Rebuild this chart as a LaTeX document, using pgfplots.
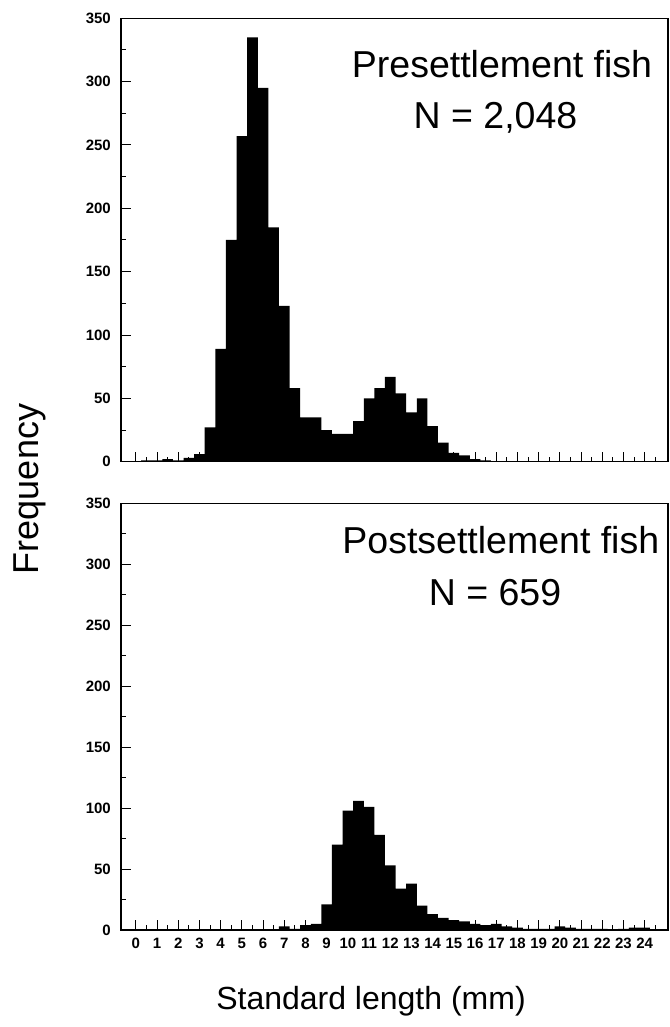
\documentclass[border=0pt]{standalone}
\usepackage{fontspec}
\setmainfont{Liberation Sans}
\usepackage{pgfplots}
\pgfplotsset{compat=1.18}

\pgfplotsset{
  common/.style={
    scale only axis, width=547pt,
    xmin=-0.7, xmax=25.1, ymin=0, ymax=350,
    axis line style={line width=1.5pt},
    tick align=inside,
    tick style={black, line width=1pt},
    xtick={0,...,24}, minor xtick={0.5,1.5,...,24.5},
    xtick pos=bottom, ytick pos=left,
    ytick={0,50,...,350}, minor ytick={25,75,...,325},
    major tick length=10pt, minor tick length=4.5pt,
    /pgf/number format/assume math mode=true,
    yticklabel style={font=\bfseries\fontsize{15}{15}\selectfont, inner sep=0pt, xshift=-10pt},
    xticklabel style={font=\bfseries\fontsize{15}{15}\selectfont, inner sep=0pt, yshift=-8pt},
    clip=false,
  }
}

\begin{document}
\begin{tikzpicture}[x=1pt,y=1pt]
\path[use as bounding box] (0,0) rectangle (669,1027);

\begin{axis}[common, at={(121pt,565.3pt)}, anchor=south west, height=443.4pt, xticklabels={}]
\addplot[ybar, bar width=0.5, bar shift=0pt, fill=black, draw=none] coordinates {
(0.5,1) (1.0,1) (1.5,2) (2.0,1) (2.5,3) (3.0,6) (3.5,27) (4.0,89) (4.5,175)
(5.0,257) (5.5,335) (6.0,295) (6.5,185) (7.0,123) (7.5,58) (8.0,35) (8.5,35)
(9.0,25) (9.5,22) (10.0,22) (10.5,32) (11.0,50) (11.5,58) (12.0,67) (12.5,54)
(13.0,39) (13.5,50) (14.0,28) (14.5,15) (15.0,7) (15.5,5) (16.0,2) (16.5,1)
};
\end{axis}

\begin{axis}[common, at={(121pt,97pt)}, anchor=south west, height=426.7pt]
\addplot[ybar, bar width=0.5, bar shift=0pt, fill=black, draw=none] coordinates {
(7.0,3) (7.5,1) (8.0,4) (8.5,5) (9.0,21) (9.5,70) (10.0,98) (10.5,106) (11.0,101)
(11.5,78) (12.0,53) (12.5,34) (13.0,38) (13.5,20) (14.0,13) (14.5,10) (15.0,8)
(15.5,7) (16.0,5) (16.5,4) (17.0,5) (17.5,3) (18.0,2) (18.5,1) (19.0,1) (19.5,1)
(20.0,3) (20.5,2) (21.0,1) (21.5,1) (22.0,1) (23.0,1) (23.5,2) (24.0,2)
};
\end{axis}

\node[anchor=base, font=\fontsize{37.5}{37.5}\selectfont] at (502,949.7) {Presettlement fish};
\node[anchor=base, font=\fontsize{37.5}{37.5}\selectfont] at (495.5,898.7) {N = 2,048};
\node[anchor=base, font=\fontsize{37.5}{37.5}\selectfont] at (500.8,473) {Postsettlement fish};
\node[anchor=base, font=\fontsize{37.5}{37.5}\selectfont] at (495,421) {N = 659};
\node[anchor=base, rotate=90, font=\fontsize{36}{36}\selectfont] at (38,538) {Frequency};
\node[anchor=base, font=\fontsize{32}{32}\selectfont] at (371,17) {Standard length (mm)};
\end{tikzpicture}
\end{document}
